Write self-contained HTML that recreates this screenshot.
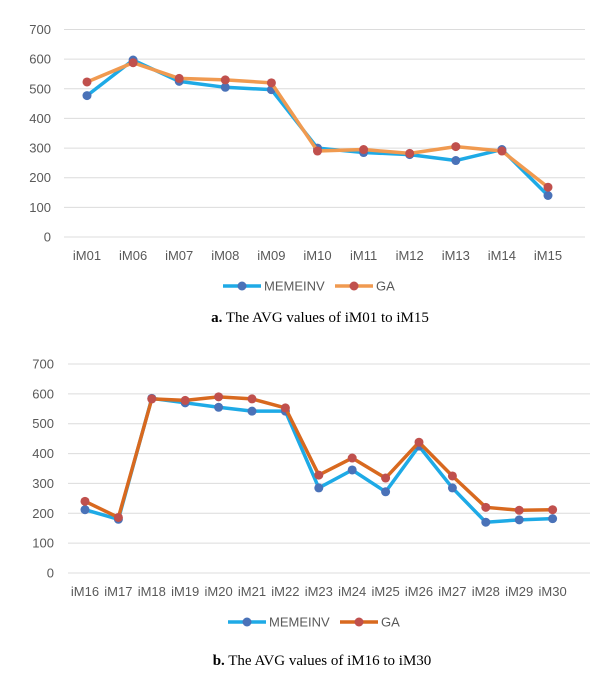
<!DOCTYPE html>
<html><head><meta charset="utf-8"><style>
body{margin:0;background:#fff;width:608px;height:683px;overflow:hidden}
svg{display:block}
text{font-family:"Liberation Sans",sans-serif}
</style></head><body>
<svg width="608" height="683" viewBox="0 0 608 683" xmlns="http://www.w3.org/2000/svg">
<g id="a"></g><g id="b"></g>
<text x="320" y="322" text-anchor="middle" font-size="15" style="font-family:'Liberation Serif',serif"><tspan font-weight="bold">a.</tspan> The AVG values of iM01 to iM15</text>
<text x="322" y="665" text-anchor="middle" font-size="15" style="font-family:'Liberation Serif',serif"><tspan font-weight="bold">b.</tspan> The AVG values of iM16 to iM30</text>
</svg>
<script>
function chart(g,o){
 let s="";
 for(let v=0;v<=700;v+=100){const y=o.y0-(o.y0-o.y7)*v/700;
  s+=`<line x1="${o.gx1}" x2="${o.gx2}" y1="${y}" y2="${y}" stroke="#dcdcdc" stroke-width="1"/>`;
  s+=`<text x="${o.lx}" y="${y+4.5}" text-anchor="end" font-size="13" fill="#595959">${v}</text>`;}
 const px=i=>o.x0+i*o.dx, py=v=>o.y0-(o.y0-o.y7)*v/700;
 o.labels.forEach((l,i)=>s+=`<text x="${px(i)}" y="${o.ly}" text-anchor="middle" font-size="13" fill="#595959">${l}</text>`);
 [[o.m,"#1eaae6","#4a72b8"],[o.g,o.gc,"#c0504d"]].forEach(([d,c,mc])=>{
  s+=`<polyline fill="none" stroke="${c}" stroke-width="3.5" stroke-linejoin="round" points="${d.map((v,i)=>px(i)+","+py(v)).join(" ")}"/>`;
  d.forEach((v,i)=>s+=`<circle cx="${px(i)}" cy="${py(v)}" r="4.5" fill="${mc}"/>`);});
 const L=o.leg;
 s+=`<line x1="${L.x}" x2="${L.x+38}" y1="${L.y}" y2="${L.y}" stroke="#1eaae6" stroke-width="3.5"/><circle cx="${L.x+19}" cy="${L.y}" r="4.5" fill="#4a72b8"/><text x="${L.x+41}" y="${L.y+4.5}" font-size="13" fill="#595959">MEMEINV</text>`;
 s+=`<line x1="${L.x2}" x2="${L.x2+38}" y1="${L.y}" y2="${L.y}" stroke="${o.gc}" stroke-width="3.5"/><circle cx="${L.x2+19}" cy="${L.y}" r="4.5" fill="#c0504d"/><text x="${L.x2+41}" y="${L.y+4.5}" font-size="13" fill="#595959">GA</text>`;
 document.getElementById(g).innerHTML=s;
}
chart("a",{y0:237,y7:29.5,gx1:64,gx2:585,lx:51,x0:87,dx:46.1,ly:260,
 labels:["iM01","iM06","iM07","iM08","iM09","iM10","iM11","iM12","iM13","iM14","iM15"],
 m:[477,597,525,505,497,300,285,278,258,295,140],g:[523,588,535,530,520,290,295,282,305,290,168],gc:"#f09a50",
 leg:{x:223,x2:335,y:286}});
chart("b",{y0:573,y7:364,gx1:68,gx2:590,lx:54,x0:85,dx:33.4,ly:596,
 labels:["iM16","iM17","iM18","iM19","iM20","iM21","iM22","iM23","iM24","iM25","iM26","iM27","iM28","iM29","iM30"],
 m:[212,180,585,570,555,542,542,285,345,272,425,285,170,178,182],g:[240,186,583,578,590,583,553,328,385,318,438,325,220,210,212],gc:"#d8691f",
 leg:{x:228,x2:340,y:622}});
</script>
</body></html>
